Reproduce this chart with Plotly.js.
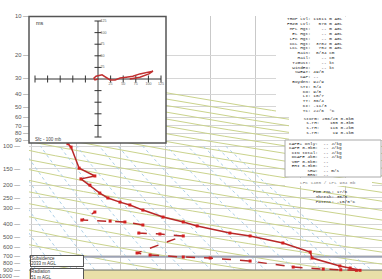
<!DOCTYPE html>
<html><head><meta charset="utf-8">
<script src="https://cdn.plot.ly/plotly-3.0.1.min.js"></script>
<style>html,body{margin:0;padding:0;background:#fff}#chart{width:382px;height:279px}</style>
</head><body><div id="chart"></div>
<script>
// ---------------- data ----------------
const pressureLabels = [10,20,30,40,50,60,70,80,90,100,150,200,250,300,400,500,600,700,800,900,1000];
const isotherms = [-50,-40,-30,-20,-10,0,10,20];
// temperature profile (hPa, degC)
const tempP = [904, 868, 837, 727, 654, 557, 492, 467, 412, 384, 352, 311, 284, 270, 251, 230, 200, 179, 170, 148, 102, 96, 80];
const tempT = [23.3, 21.1, 18.8, 12.6, 12.2, 6.1, -1.2, -5.7, -13.0, -16.1, -20.6, -25.1, -28.0, -30.2, -32.9, -34.7, -36.9, -38.9, -35.8, -39.3, -41.1, -41.8, -43.0];
// dewpoint profile
const dewP = [904, 895, 884, 853, 767, 727, 714, 689, 665, 492, 475, 467, 405, 384, 378, 371, 322];
const dewT = [22.5, 19.0, 15.1, 8.4, -1.2, -10.1, -16.1, -23.5, -26.4, -16.1, -21.3, -26.0, -25.1, -29.1, -32.4, -38.7, -35.8];
// levels
const surfaceP = 904;
const subsidenceP = 712;
const radiationP = 898;
// guide line families
const thetaList = [220,240,260,280,300,320,340,360,380,400,420,440,460,480,500,520,540,560,580,600,620,640];
const mixList = [0.03,0.05,0.08,0.12,0.2,0.3,0.5,0.8,1.2,2,3,5,8,12,16,20,24];
// hodograph (wind components)
const hodoU = [0, -6, -8, -4, 8, 16, 24, 34, 44, 56, 69, 83, 99, 109, 101, 83, 63];
const hodoV = [0, -2, 2, 6, 9, 4, -2, -2, 2, 4, 6, 11, 15, 17, 11, 4, 0];
const hodoTicks = [-125,-100,-75,-50,-25,25,50,75,100,125];
const hodoLabels = [25,50,75,100,125];
// text readouts
const panelA = [["TROP Lvl","11611","m AGL"],["FRZG Lvl","576","m AGL"],["MPL Hgt","--","m AGL"],["EL Hgt","--","m AGL"],["LFC Hgt","--","m AGL"],["CCL Hgt","3702","m AGL"],["LCL Hgt","752","m AGL"],["Rain","0/34","cm"],["Hail","--","cm"],["T2Gust","--","kt"],["WindEx","--","kt"]];
const panelB = [["SWEAT","49/0"],["CAP","--"],["Boyden","92/9"],["STI","5/4"],["KO","9/8"],["LI","10/7"],["TT","36/4"],["KI","-11/3"],["Tc","22/6  \u00b0C"]];
const stormLines = [["Storm","256/25","0-6km"],["s-rH","155","0-3km"],["s-rH","116","0-2km"],["s-rH","19","0-1km"]];
const capeLines = [["CAPE+ only","--","J/kg"],["CAPE 0-3km","--","J/kg"],["CIN total","--","J/kg"],["DCAPE 4km","--","J/kg"],["VGP 0-6km","--",""],["EHI 0-3km","--",""],["SRW","--","m/s"],["BRN","--",""]];
const fogLines = [["FOG PNL","17/6"],["Thresh","35/0"],["Potent","-15/5\u00b0C"]];

// ---------------- helpers ----------------
const W=382,H=279,L=29,TOP=16;
const xp = px => (px-L)/(W-L);
const yp = py => (H-py)/(H-TOP);
const nb = s => s.replace(/ /g,'\u00a0');
const mono = 'Liberation Mono, DejaVu Sans Mono, monospace';
const FS = 4.4;
function txt(str, px, py, o){
  return Object.assign({xref:'paper',yref:'paper',x:xp(px),y:yp(py),xanchor:'left',yanchor:'middle',
    text:nb(str),showarrow:false,borderpad:0,font:{family:mono,size:FS,color:'#262626'}},o||{});
}

// pressure sampling for guide lines
const pLog=[]; for(let i=0;i<=82;i++) pLog.push(Math.pow(10, Math.log10(1060)-i*0.025));
const dryX=[],dryY=[];
thetaList.forEach(th=>{ pLog.forEach(p=>{dryX.push(th*Math.pow(p/1000,0.2857)-273.15);dryY.push(p);}); dryX.push(null);dryY.push(null);});
const mixX=[],mixY=[];
mixList.forEach(w=>{ pLog.filter(p=>p>=100).forEach(p=>{const r=w/1000;const es=r*p/(0.622+r);const a=Math.log(es/6.112);mixX.push(243.5*a/(17.67-a));mixY.push(p);}); mixX.push(null);mixY.push(null);});

const red='#b82828', redM='#d42020';
const traces=[
 {x:dryX,y:dryY,mode:'lines',line:{color:'rgb(202,211,140)',width:1},hoverinfo:'skip'},
 {x:mixX,y:mixY,mode:'lines',line:{color:'rgb(172,208,232)',width:1,dash:'dot'},hoverinfo:'skip'},
 {x:[-60,40],y:[subsidenceP,subsidenceP],mode:'lines',line:{color:'#9da2b3',width:1.6}},
 {x:[-60,40],y:[radiationP,radiationP],mode:'lines',line:{color:'#8c8c8c',width:1}},
 {x:[-60,40,40,-60],y:[surfaceP,surfaceP,1100,1100],mode:'lines',fill:'toself',fillcolor:'#e9dfa8',line:{color:'#9a9a80',width:1}},
 {x:dewT,y:dewP,mode:'lines+markers',line:{color:red,width:1.5,dash:'dash'},marker:{symbol:'square',size:3,color:redM}},
 {x:tempT,y:tempP,mode:'lines+markers',line:{color:red,width:1.5},marker:{symbol:'square',size:3,color:redM}},
 // hodograph
 {x:[-125,125],y:[0,0],xaxis:'x2',yaxis:'y2',mode:'lines',line:{color:'#333',width:1}},
 {x:[0,0],y:[-125,125],xaxis:'x2',yaxis:'y2',mode:'lines',line:{color:'#333',width:1}},
 {x:hodoTicks,y:hodoTicks.map(()=>0),xaxis:'x2',yaxis:'y2',mode:'markers',marker:{symbol:'line-ns',size:5,line:{color:'#333',width:1}}},
 {x:hodoTicks.map(()=>0),y:hodoTicks,xaxis:'x2',yaxis:'y2',mode:'markers',marker:{symbol:'line-ew',size:5,line:{color:'#333',width:1}}},
 {x:hodoLabels,y:hodoLabels.map(()=>-11),xaxis:'x2',yaxis:'y2',mode:'text',text:hodoLabels.map(String),textfont:{size:3.6,color:'#666',family:'Liberation Sans'}},
 {x:hodoLabels.map(()=>5),y:hodoLabels,xaxis:'x2',yaxis:'y2',mode:'text',text:hodoLabels.map(String),textposition:'middle right',textfont:{size:3.6,color:'#666',family:'Liberation Sans'}},
 {x:hodoU,y:hodoV,xaxis:'x2',yaxis:'y2',mode:'lines',line:{color:'#c03030',width:1.5}}
];

const ann=[];
pressureLabels.forEach(p=>ann.push({xref:'paper',yref:'y',x:xp(p<100?29.5:20.5),y:Math.log10(p),xanchor:'right',yanchor:'middle',
  text:p+' \u2014',showarrow:false,borderpad:0,font:{family:'Liberation Sans',size:5.8,color:'#555'}}));
panelA.forEach((r,i)=>ann.push(txt((r[0]+':').padStart(9)+' '+r[1].padStart(5)+' '+r[2],286,19+i*4.8)));
panelB.forEach((r,i)=>ann.push(txt((r[0]+':').padStart(9)+' '+r[1],286,19+(i+11)*4.8)));
stormLines.forEach((r,i)=>ann.push(txt((r[0]+':').padStart(7)+' '+r[1].padStart(6)+' '+r[2],300,118+i*4.8)));
capeLines.forEach((r,i)=>ann.push(txt((r[0]+':').padStart(11)+' '+r[1].padStart(3)+' '+r[2],288,143.5+i*4.45)));
ann.push(txt('LFC 1485 / LPL 904 mb',328,182,{xanchor:'center',font:{family:mono,size:FS,color:'#888'}}));
fogLines.forEach((r,i)=>ann.push(txt((r[0]+':').padStart(8)+' '+r[1],312,191+i*5)));
ann.push({xref:'paper',yref:'paper',x:xp(30),y:yp(255),xanchor:'left',yanchor:'top',width:52,height:10,align:'left',
  text:'Subsidence<br>2033 m AGL',showarrow:false,bgcolor:'#fff',bordercolor:'#555',borderwidth:1,borderpad:0,
  font:{family:'Liberation Sans',size:4.5,color:'#333'}});
ann.push({xref:'paper',yref:'paper',x:xp(30),y:yp(268),xanchor:'left',yanchor:'top',width:52,height:11,align:'left',
  text:'Radiation<br>51 m AGL',showarrow:false,bgcolor:'#fff',bordercolor:'#555',borderwidth:1,borderpad:0,
  font:{family:'Liberation Sans',size:4.5,color:'#333'}});
ann.push(txt('ms',35,23,{font:{family:'Liberation Sans',size:5.5,color:'#333'}}));
ann.push(txt('Sfc - 100 mb',34,139,{font:{family:'Liberation Sans',size:4.6,color:'#444'}}));

const shapes=[
 {type:'rect',xref:'paper',yref:'paper',x0:xp(276),x1:xp(383),y0:yp(115),y1:yp(16.5),fillcolor:'#fff',line:{width:0},layer:'above'},
 {type:'rect',xref:'paper',yref:'paper',x0:xp(289),x1:xp(383),y0:yp(140),y1:yp(115),fillcolor:'#fff',line:{width:0},layer:'above'},
 {type:'rect',xref:'paper',yref:'paper',x0:xp(285),x1:xp(381),y0:yp(177),y1:yp(140),fillcolor:'#fff',line:{color:'#aaa',width:1},layer:'above'},
 {type:'rect',xref:'paper',yref:'paper',x0:xp(285),x1:xp(372),y0:yp(186),y1:yp(178),fillcolor:'#fff',line:{width:0},layer:'above'},
 {type:'rect',xref:'paper',yref:'paper',x0:xp(29),x1:xp(166),y0:yp(143),y1:yp(16.5),line:{color:'#555',width:1.5},layer:'above'}
];

const layout={width:W,height:H,margin:{l:L,r:0,t:TOP,b:0,pad:0},paper_bgcolor:'#fff',plot_bgcolor:'#fff',showlegend:false,
 xaxis:{range:[-50.48,28.2],tickvals:isotherms,showgrid:true,gridcolor:'#c9c9c9',gridwidth:1,showticklabels:false,ticks:'',zeroline:false,showline:false},
 yaxis:{type:'log',range:[Math.log10(1054),1],tickvals:pressureLabels,showgrid:true,gridcolor:'#d6d6d6',showticklabels:false,ticks:'',zeroline:false,showline:false},
 xaxis2:{domain:[0,xp(166)],range:[-136.9,134.9],anchor:'y2',visible:false},
 yaxis2:{domain:[yp(143),1],range:[-137.9,135.8],anchor:'x2',visible:false},
 shapes:shapes,annotations:ann};
Plotly.newPlot('chart',traces,layout,{staticPlot:true,displayModeBar:false});
</script></body></html>
